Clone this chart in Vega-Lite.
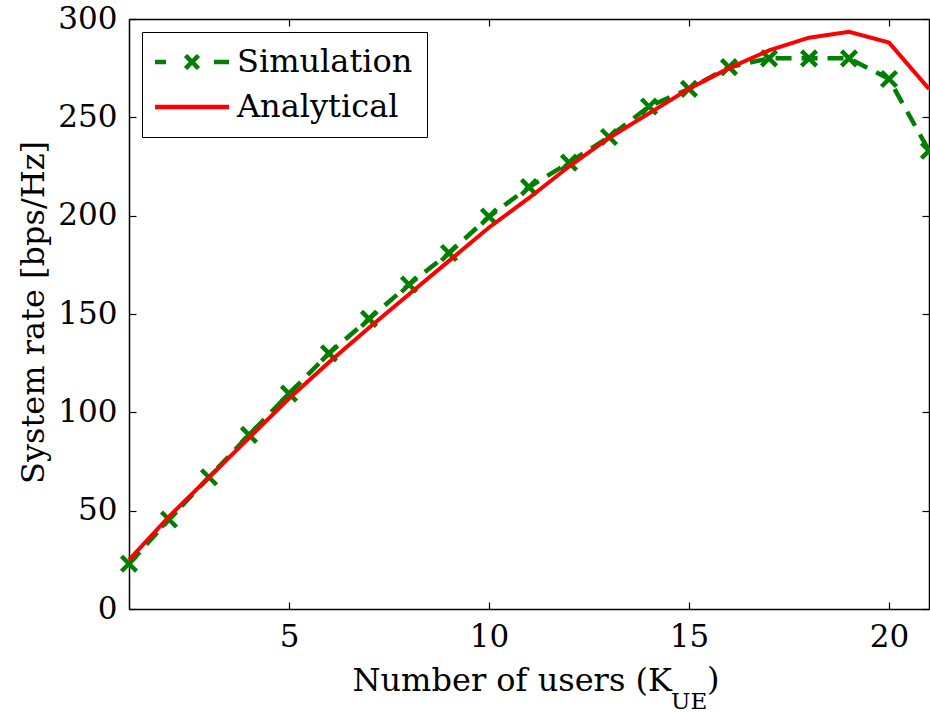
{
  "$schema": "https://vega.github.io/schema/vega-lite/v6.json",
  "width": 800,
  "height": 590,
  "autosize": "none",
  "padding": {"left": 129, "top": 19, "right": 1, "bottom": 104},
  "background": "white",
  "config": {
    "font": "DejaVu Serif",
    "view": {"stroke": null},
    "axis": {"grid": false, "domainColor": "black", "domainWidth": 1.5, "tickColor": "black", "tickWidth": 1.2, "labelColor": "black", "titleColor": "black", "labelFont": "DejaVu Serif", "titleFont": "DejaVu Serif", "titleFontWeight": "normal"}
  },
  "data": {
    "values": [
      {"k": 1, "rate": 23, "series": "Simulation"},
      {"k": 2, "rate": 45.5, "series": "Simulation"},
      {"k": 3, "rate": 67, "series": "Simulation"},
      {"k": 4, "rate": 88.5, "series": "Simulation"},
      {"k": 5, "rate": 109.5, "series": "Simulation"},
      {"k": 6, "rate": 130, "series": "Simulation"},
      {"k": 7, "rate": 147.5, "series": "Simulation"},
      {"k": 8, "rate": 165, "series": "Simulation"},
      {"k": 9, "rate": 181, "series": "Simulation"},
      {"k": 10, "rate": 199.5, "series": "Simulation"},
      {"k": 11, "rate": 214.5, "series": "Simulation"},
      {"k": 12, "rate": 227, "series": "Simulation"},
      {"k": 13, "rate": 240, "series": "Simulation"},
      {"k": 14, "rate": 255.5, "series": "Simulation"},
      {"k": 15, "rate": 264.5, "series": "Simulation"},
      {"k": 16, "rate": 275.5, "series": "Simulation"},
      {"k": 17, "rate": 280, "series": "Simulation"},
      {"k": 18, "rate": 280, "series": "Simulation"},
      {"k": 19, "rate": 280, "series": "Simulation"},
      {"k": 20, "rate": 269.5, "series": "Simulation"},
      {"k": 21, "rate": 233, "series": "Simulation"},
      {"k": 1, "rate": 25, "series": "Analytical"},
      {"k": 2, "rate": 47, "series": "Analytical"},
      {"k": 3, "rate": 67, "series": "Analytical"},
      {"k": 4, "rate": 87, "series": "Analytical"},
      {"k": 5, "rate": 107, "series": "Analytical"},
      {"k": 6, "rate": 125.5, "series": "Analytical"},
      {"k": 7, "rate": 143, "series": "Analytical"},
      {"k": 8, "rate": 160, "series": "Analytical"},
      {"k": 9, "rate": 177, "series": "Analytical"},
      {"k": 10, "rate": 194, "series": "Analytical"},
      {"k": 11, "rate": 209, "series": "Analytical"},
      {"k": 12, "rate": 225, "series": "Analytical"},
      {"k": 13, "rate": 239.5, "series": "Analytical"},
      {"k": 14, "rate": 252, "series": "Analytical"},
      {"k": 15, "rate": 264.5, "series": "Analytical"},
      {"k": 16, "rate": 275, "series": "Analytical"},
      {"k": 17, "rate": 284, "series": "Analytical"},
      {"k": 18, "rate": 290.5, "series": "Analytical"},
      {"k": 19, "rate": 293.5, "series": "Analytical"},
      {"k": 20, "rate": 288, "series": "Analytical"},
      {"k": 21, "rate": 264.5, "series": "Analytical"}
    ]
  },
  "layer": [
    {
      "transform": [{"filter": "datum.series === 'Simulation'"}],
      "mark": {"type": "line", "strokeWidth": 4.5, "strokeDash": [16, 10]},
      "encoding": {
        "x": {"field": "k", "type": "quantitative", "scale": {"domain": [1, 21], "nice": false, "zero": false},
          "axis": {"orient": "bottom", "values": [5, 10, 15, 20], "tickSize": -7, "labelFontSize": 31, "labelPadding": 20, "labelFlush": false,
            "title": "Number of users (K", "titleFontSize": 32, "titleAlign": "left", "titleAnchor": "start", "titleX": 223, "titleY": 81, "titleBaseline": "alphabetic"}},
        "y": {"field": "rate", "type": "quantitative", "scale": {"domain": [0, 300], "nice": false},
          "axis": {"orient": "left", "values": [0, 50, 100, 150, 200, 250, 300], "tickSize": -7, "labelFontSize": 31, "labelPadding": 19,
            "title": "System rate [bps/Hz]", "titleFontSize": 32, "titleX": -86, "titleY": 293, "titleBaseline": "alphabetic", "titleAngle": -90}},
        "color": {"field": "series", "type": "nominal", "scale": {"domain": ["Simulation", "Analytical"], "range": ["#008000", "#ff0000"]},
          "legend": {"title": null, "orient": "top-left", "offset": 13, "labelFontSize": 32, "labelColor": "black", "labelFont": "DejaVu Serif", "labelLimit": 500,
            "strokeColor": "black", "fillColor": "white", "padding": 14, "symbolSize": 100, "symbolStrokeWidth": 4.5, "symbolDash": [1, 0],
            "symbolOffset": 20, "labelOffset": 29, "rowPadding": 13, "symbolType": "stroke",
            "encode": {"symbols": {"update": {
              "shape": {"signal": "datum.value === 'Simulation' ? 'M-7.4,0L-5.2,0M4.4,0L7.4,0M-1.3,-1.3L1.3,1.3M-1.3,1.3L1.3,-1.3' : 'M-7.4,0L7.4,0'"},
              "fill": {"value": "transparent"}}}}}}
      }
    },
    {
      "transform": [{"filter": "datum.series === 'Simulation'"}],
      "mark": {"type": "point", "shape": "M-1,-1L1,1M-1,1L1,-1", "filled": false, "size": 225, "strokeWidth": 4.5, "opacity": 1},
      "encoding": {
        "x": {"field": "k", "type": "quantitative", "scale": {"domain": [1, 21], "nice": false, "zero": false}, "axis": null},
        "y": {"field": "rate", "type": "quantitative", "scale": {"domain": [0, 300], "nice": false}, "axis": null},
        "color": {"field": "series", "type": "nominal"}
      }
    },
    {
      "transform": [{"filter": "datum.series === 'Analytical'"}],
      "mark": {"type": "line", "strokeWidth": 4},
      "encoding": {
        "x": {"field": "k", "type": "quantitative", "scale": {"domain": [1, 21], "nice": false, "zero": false},
          "axis": {"orient": "top", "values": [5, 10, 15, 20], "tickSize": -7, "labels": false, "title": null}},
        "y": {"field": "rate", "type": "quantitative", "scale": {"domain": [0, 300], "nice": false},
          "axis": {"orient": "right", "values": [0, 50, 100, 150, 200, 250, 300], "tickSize": -7, "labels": false, "title": null}},
        "color": {"field": "series", "type": "nominal"}
      }
    },
    {
      "data": {"values": [{"label": "UE"}]},
      "mark": {"type": "text", "fontSize": 23, "align": "left", "baseline": "alphabetic", "color": "black", "font": "DejaVu Serif"},
      "encoding": {
        "x": {"datum": 14.55, "type": "quantitative", "scale": {"domain": [1, 21], "nice": false, "zero": false}, "axis": null},
        "y": {"datum": -50.8, "type": "quantitative", "scale": {"domain": [0, 300], "nice": false}, "axis": null},
        "text": {"field": "label"}
      }
    },
    {
      "data": {"values": [{"label": ")"}]},
      "mark": {"type": "text", "fontSize": 32, "align": "left", "baseline": "alphabetic", "color": "black", "font": "DejaVu Serif"},
      "encoding": {
        "x": {"datum": 15.45, "type": "quantitative", "scale": {"domain": [1, 21], "nice": false, "zero": false}, "axis": null},
        "y": {"datum": -41.2, "type": "quantitative", "scale": {"domain": [0, 300], "nice": false}, "axis": null},
        "text": {"field": "label"}
      }
    }
  ],
  "resolve": {"axis": {"x": "independent", "y": "independent"}}
}
